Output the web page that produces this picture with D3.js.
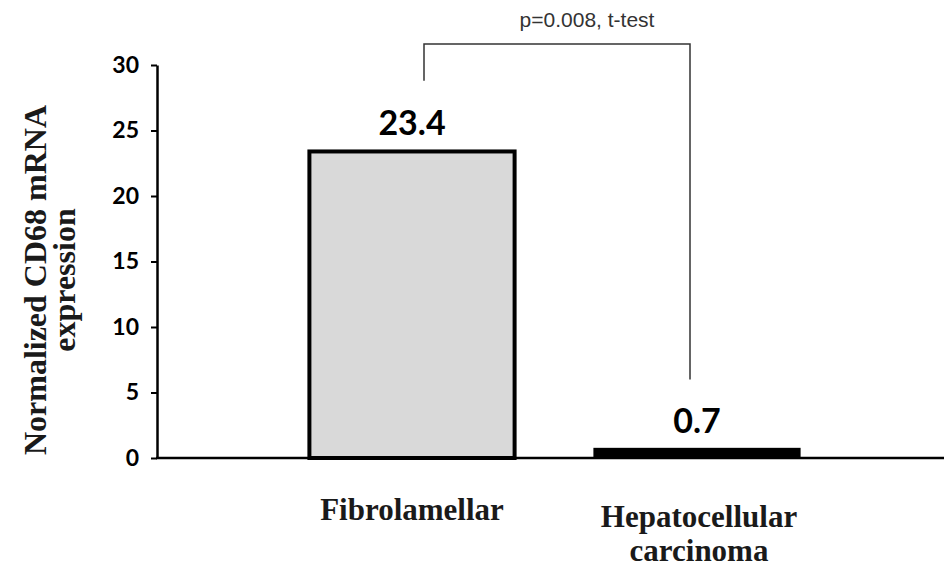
<!DOCTYPE html>
<html>
<head>
<meta charset="utf-8">
<script src="https://cdn.jsdelivr.net/npm/d3@7"></script>
<style>
  body { margin: 0; background: #fff; }
  svg { display: block; }
</style>
</head>
<body>
<svg id="chart"></svg>
<script>
const width = 944;
const height = 568;

// data
const categories = ["Fibrolamellar", "Hepatocellular carcinoma"];
const values = [23.4, 0.7];
const valueLabels = ["23.4", "0.7"];
const categoryLines = [["Fibrolamellar"], ["Hepatocellular", "carcinoma"]];
const yTicks = [0, 5, 10, 15, 20, 25, 30];
const pLabel = "p=0.008, t-test";

const svg = d3.select("#chart")
    .attr("width", width)
    .attr("height", height);

const x = d3.scaleBand()
    .domain(categories)
    .range([269.5, 839.5])
    .paddingInner(0.28)
    .paddingOuter(0.14);

const y = d3.scaleLinear()
    .domain([0, 30])
    .range([458, 65]);

const axisX = 157;

// y axis
const yAxis = svg.append("g")
    .attr("transform", `translate(${axisX},0)`)
    .call(d3.axisLeft(y).tickValues(yTicks).tickSize(6).tickSizeOuter(0).tickPadding(12));
yAxis.select(".domain").attr("stroke", "#000").attr("stroke-width", 2.5);
yAxis.selectAll(".tick line").attr("stroke", "#000").attr("stroke-width", 2);
yAxis.selectAll(".tick text")
    .attr("fill", "#000")
    .style("font-family", "Lato, 'Open Sans', sans-serif")
    .style("font-weight", "bold")
    .style("font-size", "23px");

// bars
const bars = categories.map((c, i) => ({ c, v: values[i], label: valueLabels[i], i }));

svg.append("g")
    .selectAll("rect")
    .data(bars)
    .enter()
    .append("rect")
    .attr("x", d => x(d.c))
    .attr("y", d => y(d.v))
    .attr("width", x.bandwidth())
    .attr("height", d => y(0) - y(d.v))
    .attr("fill", d => d.i === 0 ? "#d9d9d9" : "#000")
    .attr("stroke", "#000")
    .attr("stroke-width", d => d.i === 0 ? 4 : 2);

// baseline (x axis)
svg.append("line")
    .attr("x1", axisX - 1)
    .attr("x2", width)
    .attr("y1", y(0))
    .attr("y2", y(0))
    .attr("stroke", "#000")
    .attr("stroke-width", 2.5);

// value labels
svg.append("g")
    .selectAll("text")
    .data(bars)
    .enter()
    .append("text")
    .attr("x", d => x(d.c) + x.bandwidth() / 2)
    .attr("y", d => y(d.v) - 16)
    .attr("text-anchor", "middle")
    .style("font-family", "Lato, 'Open Sans', sans-serif")
    .style("font-weight", "bold")
    .style("font-size", "34px")
    .text(d => d.label);

// category labels
const catG = svg.append("g")
    .selectAll("text")
    .data(bars)
    .enter()
    .append("text")
    .attr("y", 520)
    .attr("text-anchor", "middle")
    .style("font-family", "'Liberation Serif', 'Times New Roman', serif")
    .style("font-weight", "bold")
    .style("font-size", "31px")
    .attr("fill", "#1a1a1a");
catG.each(function(d) {
    const t = d3.select(this);
    categoryLines[d.i].forEach((line, k) => {
        t.append("tspan")
            .attr("x", x(d.c) + x.bandwidth() / 2 + (d.i === 1 ? 2 : 0))
            .attr("dy", k === 0 ? (d.i === 1 ? 7 : 0) : 34)
            .text(line);
    });
});

// y axis title
const yTitle = svg.append("text")
    .attr("transform", "translate(46,280) rotate(-90)")
    .attr("text-anchor", "middle")
    .style("font-family", "'Liberation Serif', 'Times New Roman', serif")
    .style("font-weight", "bold")
    .style("font-size", "32px")
    .attr("fill", "#1a1a1a");
yTitle.append("tspan").attr("x", 0).attr("dy", 0).text("Normalized CD68 mRNA");
yTitle.append("tspan").attr("x", 0).attr("dy", 29).text("expression");

// significance bracket
const bx1 = 424;
const bx2 = 690;
const bTop = 44;
svg.append("path")
    .attr("d", `M${bx1},${y(28.8)} V${bTop} H${bx2} V${y(6)}`)
    .attr("fill", "none")
    .attr("stroke", "#333")
    .attr("stroke-width", 1.5);

svg.append("text")
    .attr("x", 587)
    .attr("y", 27)
    .attr("text-anchor", "middle")
    .style("font-family", "'Liberation Sans', Arial, sans-serif")
    .style("font-size", "21px")
    .attr("fill", "#333")
    .text(pLabel);
</script>
</body>
</html>
